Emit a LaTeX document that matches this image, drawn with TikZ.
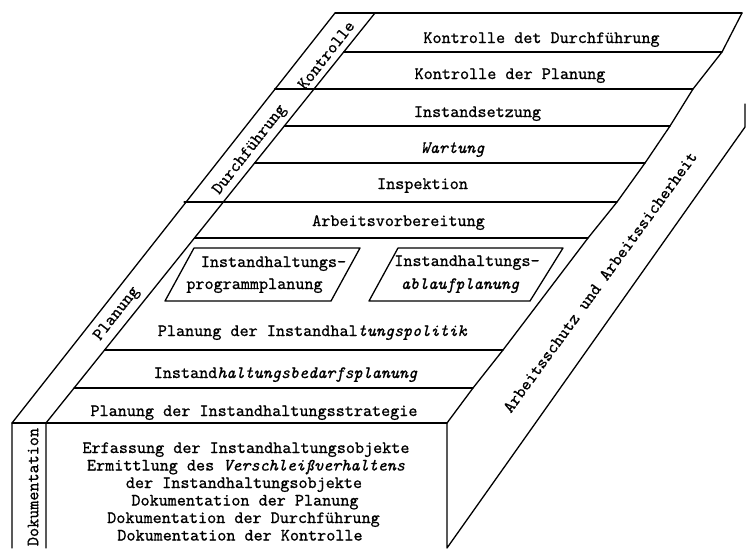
\documentclass[tikz,border=0pt]{standalone}
\usepackage{fontspec}
\newfontfamily\twfont{lmmono10-regular.otf}[ItalicFont=lmmono10-italic.otf,FakeBold=0.8]
\begin{document}
\begin{tikzpicture}[x=1pt,y=-1pt,
  edge/.style={line width=1.3pt, line join=round, line cap=round},
  lbl/.style={font=\fontsize{17.3}{17.4}\selectfont\twfont, inner sep=0pt},
  rowlbl/.style={lbl, anchor=base},
]
\useasboundingbox (0,0) rectangle (746,550);
% corners
\coordinate (TL) at (335,13);
\coordinate (TI) at (375,13);
\coordinate (TR) at (742,13);
\coordinate (FL) at (12,423);
\coordinate (FI) at (46,423);
\coordinate (FR) at (447,423);
\coordinate (BL) at (12,548);
\coordinate (BI) at (46,548);
\coordinate (BR) at (447,548);
\coordinate (SR) at (745,127);
\coordinate (ST) at (745,104);
% right edge points
\coordinate (R1) at (722,52);
\coordinate (R2) at (693,89);
\coordinate (R3) at (670,126);
\coordinate (R4) at (645,163);
\coordinate (R5) at (617,202);
\coordinate (R6) at (588,238);
\coordinate (R7) at (503,350);
\coordinate (R8) at (473,388);
% left edge points
\coordinate (L1) at (343.7,52);
\coordinate (L2) at (274.6,89);
\coordinate (L3) at (284.3,126);
\coordinate (L4) at (254.6,163);
\coordinate (L5) at (184.1,202);
\coordinate (L6) at (194.4,238);
\coordinate (L7) at (104.6,350);
\coordinate (L8) at (74.1,388);

% outline
\draw[edge] (TL) -- (TR);
\draw[edge] (TL) -- (FL) -- (BL);
\draw[edge] (TI) -- (FI) -- (BI);
\draw[edge] (FL) -- (FR);
\draw[edge] (TR) -- (R1) -- (R2) -- (R3) -- (R4) -- (R5) -- (R6) -- (R7) -- (R8) -- (FR) -- (BR) -- (SR) -- (ST);
% rows
\draw[edge] (L1) -- (R1);
\draw[edge] (L2) -- (R2);
\draw[edge] (L3) -- (R3);
\draw[edge] (L4) -- (R4);
\draw[edge] (L5) -- (R5);
\draw[edge] (L6) -- (R6);
\draw[edge] (L7) -- (R7);
\draw[edge] (L8) -- (R8);
% inner boxes
\draw[edge] (194,248) -- (360,248) -- (331,301) -- (165,301) -- cycle;
\draw[edge] (398,248) -- (563,248) -- (530,301) -- (369,301) -- cycle;

% row labels
\node[rowlbl] (t1) at (541.5,43) {Kontrolle det Durchführung};
\node[rowlbl] (t2) at (510,79) {Kontrolle der Planung};
\node[rowlbl] (t3) at (477.5,117) {Instandsetzung};
\node[rowlbl] (t4) at (452.5,153) {\itshape Wartung};
\node[rowlbl] (t5) at (422.5,189) {Inspektion};
\node[rowlbl] (t6) at (398.5,226) {Arbeitsvorbereitung};
\node[rowlbl] (b1a) at (273.5,267) {Instandhaltungs-};
\node[rowlbl] (b1b) at (254.5,289) {programmplanung};
\node[rowlbl] (b2a) at (467,266) {Instandhaltungs-};
\node[rowlbl] (b2b) at (460,289) {\itshape ablaufplanung};
\node[rowlbl] (t7) at (312.5,336) {Planung der Instandhal\textit{tungspolitik}};
\node[rowlbl] (t8) at (285.5,378) {Instand\textit{haltungsbedarfsplanung}};
\node[rowlbl] (t9) at (254,416) {Planung der Instandhaltungsstrategie};
% documentation block
\node[rowlbl] (d1) at (246,453) {Erfassung der Instandhaltungsobjekte};
\node[rowlbl] (d2) at (246,470.5) {Ermittlung des \textit{Verschleißverhaltens}};
\node[rowlbl] (d3) at (244,488) {der Instandhaltungsobjekte};
\node[rowlbl] (d4) at (245,505.5) {Dokumentation der Planung};
\node[rowlbl] (d5) at (243.5,523) {Dokumentation der Durchführung};
\node[rowlbl] (d6) at (240,540.5) {Dokumentation der Kontrolle};

% strip labels
\node[lbl, rotate=52] (s1) at (326,55) {Kontrolle};
\node[lbl, rotate=52] (s2) at (250,150) {Durchführung};
\node[lbl, rotate=52] (s3) at (117,314) {Planung};
\node[lbl, rotate=90] (s4) at (33,487) {Dokumentation};
\node[lbl, rotate=54] (s5) at (600,282) {Arbeitsschutz und Arbeitssicherheit};
\end{tikzpicture}
\end{document}
